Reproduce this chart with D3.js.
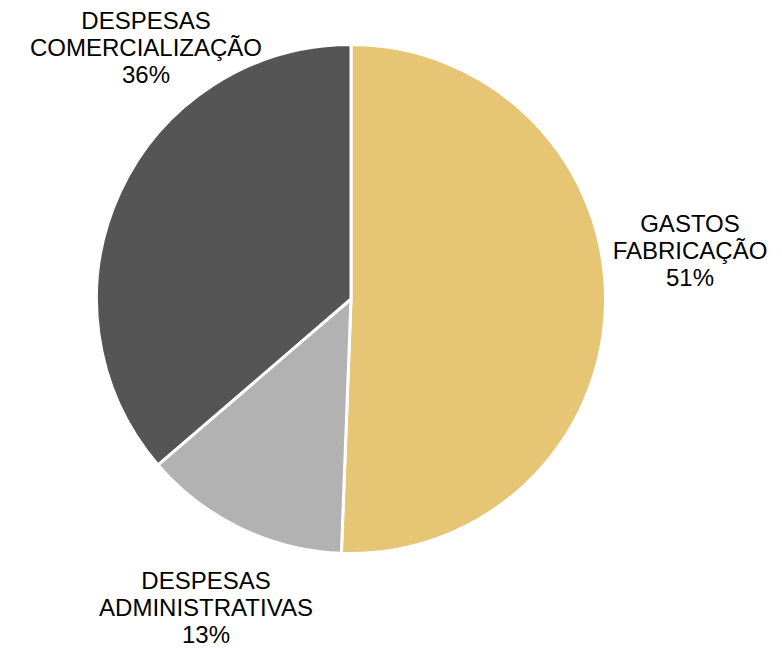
<!DOCTYPE html>
<html lang="pt">
<head>
<meta charset="utf-8">
<title>Distribuição de gastos</title>
<script src="https://d3js.org/d3.v7.min.js"></script>
<style>
  body { margin: 0; background: #fff; }
  text { font-family: "Liberation Sans", Arial, sans-serif; fill: #000; }
</style>
</head>
<body>
<script>
// data
var categories = [["GASTOS", "FABRICAÇÃO"], ["DESPESAS", "ADMINISTRATIVAS"], ["DESPESAS", "COMERCIALIZAÇÃO"]];
var values = [50.6, 13.1, 36.3];
var colors = ["#E6C574", "#B2B2B2", "#555555"];

// where each label block is centred (x, y of first baseline)
var labelPos = [[690, 232], [206, 589], [146, 29]];

var W = 782, H = 649;
var cx = 351, cy = 299, r = 254.5;
var fontSize = 24, lineH = 27;

var svg = d3.select("body").append("svg")
  .attr("width", W)
  .attr("height", H);

var pie = d3.pie().sort(null).value(d => d)(values);
var arc = d3.arc().innerRadius(0).outerRadius(r);

var g = svg.append("g").attr("transform", "translate(" + cx + "," + cy + ")");

g.selectAll("path")
  .data(pie)
  .enter()
  .append("path")
    .attr("d", arc)
    .attr("fill", (d, i) => colors[i])
    .attr("stroke", "#fff")
    .attr("stroke-width", 3)
    .attr("stroke-linejoin", "round");

var total = d3.sum(values);

var labels = svg.selectAll("text.lbl")
  .data(pie)
  .enter()
  .append("text")
    .attr("class", "lbl")
    .attr("text-anchor", "middle")
    .attr("font-size", fontSize)
    .attr("x", (d, i) => labelPos[i][0])
    .attr("y", (d, i) => labelPos[i][1]);

labels.each(function (d, i) {
  var t = d3.select(this);
  var lines = categories[i].concat([Math.round(d.value / total * 100) + "%"]);
  lines.forEach(function (s, j) {
    t.append("tspan")
      .attr("x", labelPos[i][0])
      .attr("y", labelPos[i][1] + j * lineH)
      .text(s);
  });
});
</script>
</body>
</html>
